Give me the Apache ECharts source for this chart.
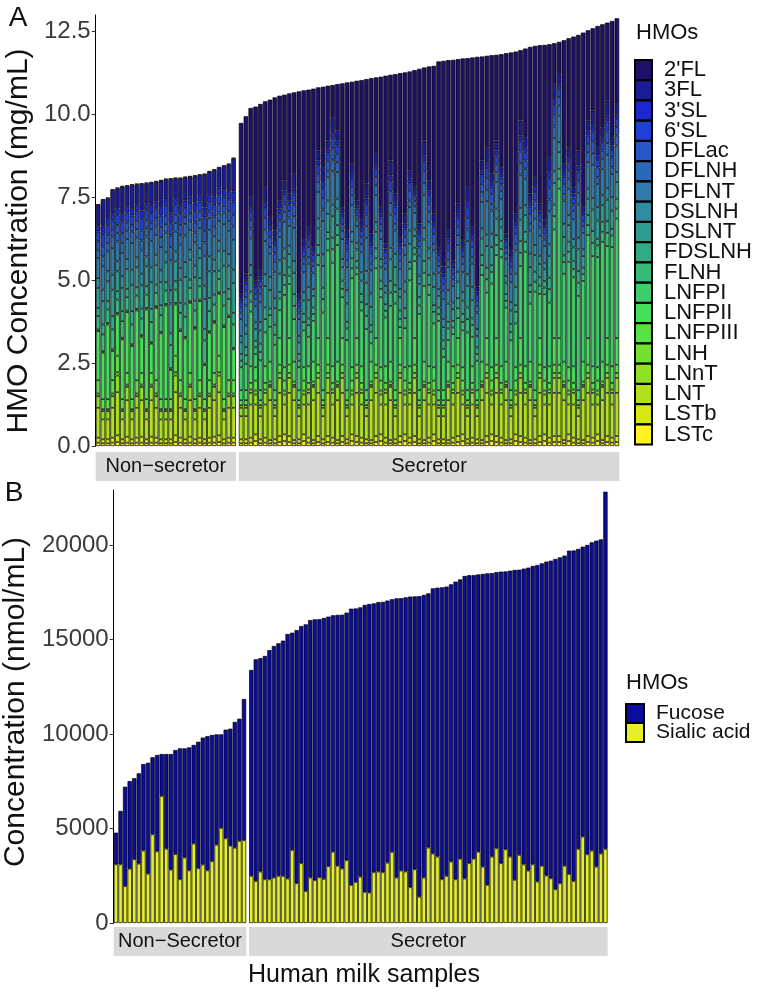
<!DOCTYPE html>
<html><head><meta charset="utf-8">
<script src="https://cdn.jsdelivr.net/npm/echarts/dist/echarts.min.js"></script>
<style>html,body{margin:0;padding:0;background:#fff}#c{width:759px;height:992px}</style>
</head><body><div id="c"></div>
<script>
const FONT = "'Liberation Sans', Arial, Helvetica, sans-serif";
const nonSecCount = 29;
const sampleIds = Array.from({length:108}, (_, i) => 'M' + (i + 1));

const hmoNames = ["2'FL","3FL","3'SL","6'SL","DFLac","DFLNH","DFLNT","DSLNH","DSLNT","FDSLNH","FLNH","LNFPI","LNFPII","LNFPIII","LNH","LNnT","LNT","LSTb","LSTc"];
const hmoColors = ["#1f0f68","#1b1b98","#1c27cf","#1f40d4","#2756c6","#2a68b8","#2d7aab","#2f8b9f","#2f9b93","#31aa87","#37bb7a","#3ecd6a","#46df59","#58e345","#72e130","#92e024","#b2e11b","#d5e912","#fff21c"];

// Panel A (mg/mL): first 29 samples = non-secretors, remaining 79 = secretors
const v2FL = [0.02,0.02,0.02,0.02,0.02,0.02,0.02,0.02,0.02,0.02,0.02,0.02,0.02,0.02,0.02,0.02,0.02,0.02,0.02,0.02,0.02,0.02,0.02,0.02,0.02,0.02,0.02,0.02,0.02,
5.13,4.73,2.68,5.22,5.00,2.58,3.53,4.00,3.15,2.58,
3.02,2.45,6.08,4.51,4.13,4.76,1.90,2.42,1.65,0.97,
1.40,3.72,4.45,2.47,3.60,4.22,3.15,4.68,2.30,3.92,
5.05,2.58,3.60,4.93,4.25,2.98,3.52,4.66,2.20,3.43,
4.45,5.58,6.20,5.12,6.03,4.35,5.47,3.88,5.10,6.92,
3.13,2.75,3.57,2.58,3.40,5.43,5.95,4.88,2.12,2.67,
4.42,3.95,4.77,5.28,3.40,1.23,0.97,3.72,3.28,4.53,
3.48,5.25,2.72,2.48,3.65,3.10,2.35,3.50,2.58];
const v3FL = [.60,.80,.60,.70,.60,.80,.60,.70,.60,.80,.60,.70,.60,.80,.60,1.00,.60,.80,.70,.60,.80,.60,1.00,.70,.80,.60,.70,.80,1.00,
.15,.20,.30,.15,.20,.45,.25,.30,.25,.30,.20,.45,.15,.20,.25,.15,.30,.45,.25,.45,.30,.20,.25,.30,.15,.20,.45,.25,.30,.20,.15,.45,.25,.20,.30,.25,.15,.20,.45,.30,.25,.15,.20,.25,.15,.30,.20,.45,.25,.15,.30,.45,.25,.30,.20,.15,.20,.25,.45,.30,.25,.30,.20,.15,.45,.45,.30,.25,.30,.20,.45,.15,.30,.45,.25,.30,.45,.25,.30];
const v3SL = [.20,.25,.20,.22,.20,.25,.20,.22,.20,.25,.20,.22,.20,.25,.20,.30,.20,.25,.22,.20,.25,.20,.30,.22,.25,.20,.22,.25,.30,
.10,.12,.15,.10,.12,.18,.14,.15,.14,.15,.12,.18,.10,.12,.14,.10,.15,.18,.14,.18,.15,.12,.14,.15,.10,.12,.18,.14,.15,.12,.10,.18,.14,.12,.15,.14,.10,.12,.18,.15,.14,.10,.12,.14,.10,.15,.12,.18,.14,.10,.15,.18,.14,.15,.12,.10,.12,.14,.18,.15,.14,.15,.12,.10,.18,.18,.15,.14,.15,.12,.18,.10,.15,.18,.14,.15,.18,.14,.15];
const v6SL = [.30,.35,.30,.28,.30,.35,.30,.28,.30,.35,.30,.28,.30,.35,.30,.40,.30,.35,.28,.30,.35,.30,.40,.28,.35,.30,.28,.35,.40,
.18,.20,.25,.18,.20,.30,.22,.25,.22,.25,.20,.30,.18,.20,.22,.18,.25,.30,.22,.30,.25,.20,.22,.25,.18,.20,.30,.22,.25,.20,.18,.30,.22,.20,.25,.22,.18,.20,.30,.25,.22,.18,.20,.22,.18,.25,.20,.30,.22,.18,.25,.30,.22,.25,.20,.18,.20,.22,.30,.25,.22,.25,.20,.18,.30,.30,.25,.22,.25,.20,.30,.18,.25,.30,.22,.25,.30,.22,.25];
const vDFLac = [.25,.30,.25,.20,.25,.30,.25,.20,.25,.30,.25,.20,.25,.30,.25,.35,.25,.30,.20,.25,.30,.25,.35,.20,.30,.25,.20,.30,.35,
.15,.20,.25,.15,.20,.35,.30,.25,.30,.25,.20,.35,.15,.20,.30,.15,.25,.35,.30,.35,.25,.20,.30,.25,.15,.20,.35,.30,.25,.20,.15,.35,.30,.20,.25,.30,.15,.20,.35,.25,.30,.15,.20,.30,.15,.25,.20,.35,.30,.15,.25,.35,.30,.25,.20,.15,.20,.30,.35,.25,.30,.25,.20,.15,.35,.35,.25,.30,.25,.20,.35,.15,.25,.35,.30,.25,.35,.30,.25];
const vDFLNH = [.25,.30,.25,.35,.25,.30,.25,.35,.25,.30,.25,.35,.25,.30,.25,.40,.25,.30,.35,.25,.30,.25,.40,.35,.30,.25,.35,.30,.40,
.20,.25,.30,.20,.25,.35,.20,.30,.20,.30,.25,.35,.20,.25,.20,.20,.30,.35,.20,.35,.30,.25,.20,.30,.20,.25,.35,.20,.30,.25,.20,.35,.20,.25,.30,.20,.20,.25,.35,.30,.20,.20,.25,.20,.20,.30,.25,.35,.20,.20,.30,.35,.20,.30,.25,.20,.25,.20,.35,.30,.20,.30,.25,.20,.35,.35,.30,.20,.30,.25,.35,.20,.30,.35,.20,.30,.35,.20,.30];
const vDFLNT = [.60,.70,.60,.80,.60,.70,.60,.80,.60,.70,.60,.80,.60,.70,.60,.90,.60,.70,.80,.60,.70,.60,.90,.80,.70,.60,.80,.70,.90,
.50,.60,.80,.50,.60,1.00,.70,.80,.70,.80,.60,1.00,.50,.60,.70,.50,.80,1.00,.70,1.00,.80,.60,.70,.80,.50,.60,1.00,.70,.80,.60,.50,1.00,.70,.60,.80,.70,.50,.60,1.00,.80,.70,.50,.60,.70,.50,.80,.60,1.00,.70,.50,.80,1.00,.70,.80,.60,.50,.60,.70,1.00,.80,.70,.80,.60,.50,1.00,1.00,.80,.70,.80,.60,1.00,.50,.80,1.00,.70,.80,1.00,.70,.80];
const vDSLNH = [.30,.35,.30,.45,.30,.35,.30,.45,.30,.35,.30,.45,.30,.35,.30,.40,.30,.35,.45,.30,.35,.30,.40,.45,.35,.30,.45,.35,.40,
.20,.25,.30,.20,.25,.35,.40,.30,.40,.30,.25,.35,.20,.25,.40,.20,.30,.35,.40,.35,.30,.25,.40,.30,.20,.25,.35,.40,.30,.25,.20,.35,.40,.25,.30,.40,.20,.25,.35,.30,.40,.20,.25,.40,.20,.30,.25,.35,.40,.20,.30,.35,.40,.30,.25,.20,.25,.40,.35,.30,.40,.30,.25,.20,.35,.35,.30,.40,.30,.25,.35,.20,.30,.35,.40,.30,.35,.40,.30];
const vDSLNT = [.60,.70,.60,.80,.60,.70,.60,.80,.60,.70,.60,.80,.60,.70,.60,.90,.60,.70,.80,.60,.70,.60,.90,.80,.70,.60,.80,.70,.90,
.35,.40,.50,.35,.40,.65,.55,.50,.55,.50,.40,.65,.35,.40,.55,.35,.50,.65,.55,.65,.50,.40,.55,.50,.35,.40,.65,.55,.50,.40,.35,.65,.55,.40,.50,.55,.35,.40,.65,.50,.55,.35,.40,.55,.35,.50,.40,.65,.55,.35,.50,.65,.55,.50,.40,.35,.40,.55,.65,.50,.55,.50,.40,.35,.65,.65,.50,.55,.50,.40,.65,.35,.50,.65,.55,.50,.65,.55,.50];
const vFDSLNH = [.25,.30,.25,.40,.25,.30,.25,.40,.25,.30,.25,.40,.25,.30,.25,.35,.25,.30,.40,.25,.30,.25,.35,.40,.30,.25,.40,.30,.35,
.20,.25,.30,.20,.25,.35,.20,.30,.20,.30,.25,.35,.20,.25,.20,.20,.30,.35,.20,.35,.30,.25,.20,.30,.20,.25,.35,.20,.30,.25,.20,.35,.20,.25,.30,.20,.20,.25,.35,.30,.20,.20,.25,.20,.20,.30,.25,.35,.20,.20,.30,.35,.20,.30,.25,.20,.25,.20,.35,.30,.20,.30,.25,.20,.35,.35,.30,.20,.30,.25,.35,.20,.30,.35,.20,.30,.35,.20,.30];
const vFLNH = [.40,.50,.40,.60,.40,.50,.40,.60,.40,.50,.40,.60,.40,.50,.40,.70,.40,.50,.60,.40,.50,.40,.70,.60,.50,.40,.60,.50,.70,
.20,.25,.30,.20,.25,.40,.35,.30,.35,.30,.25,.40,.20,.25,.35,.20,.30,.40,.35,.40,.30,.25,.35,.30,.20,.25,.40,.35,.30,.25,.20,.40,.35,.25,.30,.35,.20,.25,.40,.30,.35,.20,.25,.35,.20,.30,.25,.40,.35,.20,.30,.40,.35,.30,.25,.20,.25,.35,.40,.30,.35,.30,.25,.20,.40,.40,.30,.35,.30,.25,.40,.20,.30,.40,.35,.30,.40,.35,.30];
const vLNFPI = [.05,.05,.05,.05,.05,.05,.05,.05,.05,.05,.05,.05,.05,.05,.05,.05,.05,.05,.05,.05,.05,.05,.05,.05,.05,.05,.05,.05,.05,
0.69,0.80,1.65,0.40,0.90,1.02,1.05,1.37,0.84,2.18,
1.63,1.28,0.69,1.11,0.89,1.23,2.20,2.34,2.64,3.12,
3.51,1.23,1.51,2.68,1.92,1.68,1.84,0.55,2.10,2.11,
1.47,1.68,2.61,0.33,1.18,2.59,2.32,2.30,2.28,2.15,
1.32,2.09,1.00,0.65,0.97,0.60,1.11,1.74,0.89,0.89,
2.61,1.37,2.52,2.50,3.28,1.63,1.50,1.32,2.17,3.45,
1.75,2.97,1.33,2.20,1.92,3.27,4.50,2.65,3.18,2.68,
2.84,2.43,3.10,3.32,3.32,3.61,2.77,3.59,3.60];
const vLNFPII = [1.48,1.40,2.25,0.88,1.24,1.80,1.83,1.60,2.10,1.09,2.70,0.88,2.18,1.98,2.82,0.88,1.54,1.48,1.83,2.11,2.12,2.38,1.02,1.43,1.51,1.86,2.17,1.90,0.93,
.30,.30,.50,.40,.30,.50,.60,.30,.80,.40,.80,.60,.30,.40,.50,.60,.80,.30,.80,.50,.60,.80,.30,.40,.80,.50,.30,.60,.80,.40,.50,.60,.30,.80,.40,.50,.80,.30,.60,.50,.40,.30,.30,.60,.50,.80,.40,.30,.50,.30,.60,.80,.40,.80,.50,.60,.30,.40,.80,.50,.60,.30,.80,.40,.50,.80,.80,.60,.40,.50,.30,.60,.80,.50,.40,.60,.80,.50,.80];
const vLNFPIII = [.40,.30,.30,.40,.50,.30,.35,.30,.40,.35,.30,.35,.40,.30,.30,.30,.50,.40,.30,.35,.30,.40,.30,.40,.35,.50,.30,.40,.40,
.15,.15,.20,.30,.15,.20,.10,.15,.25,.30,.25,.10,.15,.30,.20,.10,.25,.15,.25,.20,.10,.25,.15,.30,.25,.20,.15,.10,.25,.30,.20,.10,.15,.25,.30,.20,.25,.15,.10,.20,.30,.15,.15,.10,.20,.25,.30,.15,.20,.15,.10,.25,.30,.25,.20,.10,.15,.30,.25,.20,.10,.15,.25,.30,.20,.25,.25,.10,.30,.20,.15,.10,.25,.20,.30,.10,.25,.20,.25];
const vLNH = [.08,.06,.06,.08,.10,.06,.07,.06,.08,.07,.06,.07,.08,.06,.06,.06,.10,.08,.06,.07,.06,.08,.06,.08,.07,.10,.06,.08,.08,
.08,.08,.10,.12,.08,.10,.06,.08,.15,.12,.15,.06,.08,.12,.10,.06,.15,.08,.15,.10,.06,.15,.08,.12,.15,.10,.08,.06,.15,.12,.10,.06,.08,.15,.12,.10,.15,.08,.06,.10,.12,.08,.08,.06,.10,.15,.12,.08,.10,.08,.06,.15,.12,.15,.10,.06,.08,.12,.15,.10,.06,.08,.15,.12,.10,.15,.15,.06,.12,.10,.08,.06,.15,.10,.12,.06,.15,.10,.15];
const vLNnT = [.35,.25,.25,.35,.50,.25,.40,.25,.35,.40,.25,.40,.35,.25,.25,.25,.50,.35,.25,.40,.25,.35,.25,.35,.40,.50,.25,.35,.35,
.25,.25,.35,.30,.25,.35,.40,.25,.45,.30,.45,.40,.25,.30,.35,.40,.45,.25,.45,.35,.40,.45,.25,.30,.45,.35,.25,.40,.45,.30,.35,.40,.25,.45,.30,.35,.45,.25,.40,.35,.30,.25,.25,.40,.35,.45,.30,.25,.35,.25,.40,.45,.30,.45,.35,.40,.25,.30,.45,.35,.40,.25,.45,.30,.35,.45,.45,.40,.30,.35,.25,.40,.45,.35,.30,.40,.45,.35,.45];
const vLNT = [.90,.60,.60,.90,1.30,.60,1.10,.60,.90,1.10,.60,1.10,.90,.60,.60,.60,1.30,.90,.60,1.10,.60,.90,.60,.90,1.10,1.30,.60,.90,.90,
.70,.70,1.00,.90,.70,1.00,1.20,.70,1.30,.90,1.30,1.20,.70,.90,1.00,1.20,1.30,.70,1.30,1.00,1.20,1.30,.70,.90,1.30,1.00,.70,1.20,1.30,.90,1.00,1.20,.70,1.30,.90,1.00,1.30,.70,1.20,1.00,.90,.70,.70,1.20,1.00,1.30,.90,.70,1.00,.70,1.20,1.30,.90,1.30,1.00,1.20,.70,.90,1.30,1.00,1.20,.70,1.30,.90,1.00,1.30,1.30,1.20,.90,1.00,.70,1.20,1.30,1.00,.90,1.20,1.30,1.00,1.30];
const vLSTb = [.15,.12,.12,.15,.20,.12,.18,.12,.15,.18,.12,.18,.15,.12,.12,.12,.20,.15,.12,.18,.12,.15,.12,.15,.18,.20,.12,.15,.15,
.12,.12,.15,.20,.12,.15,.10,.12,.18,.20,.18,.10,.12,.20,.15,.10,.18,.12,.18,.15,.10,.18,.12,.20,.18,.15,.12,.10,.18,.20,.15,.10,.12,.18,.20,.15,.18,.12,.10,.15,.20,.12,.12,.10,.15,.18,.20,.12,.15,.12,.10,.18,.20,.18,.15,.10,.12,.20,.18,.15,.10,.12,.18,.20,.15,.18,.18,.10,.20,.15,.12,.10,.18,.15,.20,.10,.18,.15,.18];
const vLSTc = [.10,.08,.08,.10,.12,.08,.10,.08,.10,.10,.08,.10,.10,.08,.08,.08,.12,.10,.08,.10,.08,.10,.08,.10,.10,.12,.08,.10,.10,
.08,.08,.10,.15,.08,.10,.08,.08,.12,.15,.12,.08,.08,.15,.10,.08,.12,.08,.12,.10,.08,.12,.08,.15,.12,.10,.08,.08,.12,.15,.10,.08,.08,.12,.15,.10,.12,.08,.08,.10,.15,.08,.08,.08,.10,.12,.15,.08,.10,.08,.08,.12,.15,.12,.10,.08,.08,.15,.12,.10,.08,.08,.12,.15,.10,.12,.12,.08,.15,.10,.08,.08,.12,.10,.15,.08,.12,.10,.12];

// Panel B (nmol/mL)
const sialicAcid = [3100,3100,1950,2870,3370,3140,3830,2610,4690,3790,6720,3930,2820,3640,2310,3460,2780,4200,2890,3090,2780,3270,4140,5030,4480,4090,3980,4340,4380,
2490,2220,2720,2310,2310,2400,2490,2490,2350,3860,2100,3160,1690,2400,2260,2420,2330,3000,3770,3030,2880,3320,2010,2170,2450,1640,
1610,2680,2720,2680,3190,3760,2400,2770,2720,1890,2840,1390,2400,3990,3670,3510,2310,2490,3250,2310,3400,2350,3160,3400,3770,2980,
2010,3510,3950,3160,3900,3510,2280,3600,3100,2770,3100,2190,3030,2510,2360,1780,2100,3030,2590,2220,3920,4570,3630,3830,2980,3670,3920];
const fucose = [1680,2830,5260,4640,4290,4780,4580,5870,4080,5100,2220,5010,6120,5510,6930,5780,6510,5220,6700,6720,7110,6680,5840,4950,5750,6190,6660,6470,7470,
10900,11730,11290,11820,12130,12260,12310,12450,12940,11500,
13400,12550,14110,13630,13810,13660,13810,13210,12510,13270,
13430,13100,14620,14470,14250,15190,15270,14230,14260,14310,
13870,13370,14780,14420,14510,15380,14440,15900,14960,13450,
14040,14230,15450,15310,14670,15750,14780,16010,15240,15010,
14670,15490,16490,15000,14610,15430,14700,15130,16400,15090,
15650,16030,15790,16750,16000,16610,16810,17480,17250,16410,
17110,17490,15870,15340,16370,16310,17250,16630,18900];

const groupLabelsA = ['Non\u2212secretor','Secretor'];
const groupLabelsB = ['Non\u2212Secretor','Secretor'];

const hmoTable = [v2FL,v3FL,v3SL,v6SL,vDFLac,vDFLNH,vDFLNT,vDSLNH,vDSLNT,vFDSLNH,vFLNH,vLNFPI,vLNFPII,vLNFPIII,vLNH,vLNnT,vLNT,vLSTb,vLSTc];

const part = (arr, g) => g === 0 ? arr.slice(0, nonSecCount) : arr.slice(nonSecCount);
const border = {borderColor:'#000', borderWidth:0.7};

const series = [];
[0,1].forEach(g => {
  for (let i = hmoNames.length - 1; i >= 0; i--) {
    series.push({type:'bar', name:hmoNames[i], xAxisIndex:g, yAxisIndex:g, stack:'A'+g,
      data: part(hmoTable[i], g), barCategoryGap:'6%',
      itemStyle: Object.assign({color:hmoColors[i]}, border)});
  }
});
[0,1].forEach(g => {
  series.push({type:'bar', name:'Sialic acid', xAxisIndex:2+g, yAxisIndex:2+g, stack:'B'+g,
    data: part(sialicAcid, g), barCategoryGap:'6%', itemStyle: Object.assign({color:'#e6ef2c'}, border)});
  series.push({type:'bar', name:'Fucose', xAxisIndex:2+g, yAxisIndex:2+g, stack:'B'+g,
    data: part(fucose, g), barCategoryGap:'6%', itemStyle: Object.assign({color:'#0b0b9e'}, border)});
});

const grids = [
  {left:95.7, top:15, width:140.3, height:431},
  {left:238.7, top:15, width:380.6, height:431},
  {left:113.7, top:490, width:132.6, height:433},
  {left:249, top:490, width:358.7, height:433}
];
const xAxes = grids.map((g, i) => ({type:'category', gridIndex:i, data: part(sampleIds, i % 2),
  axisLine:{show:false}, axisTick:{show:false}, axisLabel:{show:false}}));
const yBase = (i, max, interval, fmt) => ({type:'value', gridIndex:i, min:0, max:max, interval:interval,
  show: i % 2 === 0, splitLine:{show:false},
  axisLine:{show:true, lineStyle:{color:'#000', width:1}},
  axisTick:{show:true, length:4, lineStyle:{color:'#333'}},
  axisLabel:{show:true, showMaxLabel:false, fontSize:24, color:'#3a3a3a', fontFamily:FONT, margin:5, formatter:fmt}});
const yAxes = [
  yBase(0, 12.98, 2.5, v => v.toFixed(1)),
  yBase(1, 12.98, 2.5, v => v.toFixed(1)),
  yBase(2, 22910, 5000, v => String(v)),
  yBase(3, 22910, 5000, v => String(v))
];

const txt = (x, y, text, size, opts, align) => Object.assign({type:'text', x:x, y:y,
  style:{text:text, font: size + 'px ' + FONT, fill:'#111', textAlign: align || 'center', textVerticalAlign:'middle'}}, opts || {});
const strip = (x, y, w, h, label) => [
  {type:'rect', shape:{x:x, y:y, width:w, height:h}, style:{fill:'#d9d9d9'}},
  txt(x + w/2, y + h/2, label, 20)
];

const graphic = [].concat(
  strip(95.7, 452, 140.3, 29, groupLabelsA[0]),
  strip(238.7, 452, 380.6, 29, groupLabelsA[1]),
  strip(113.7, 927, 132.6, 29, groupLabelsB[0]),
  strip(249, 927, 358.7, 29, groupLabelsB[1]),
  [
    txt(18, 18, 'A', 28),
    txt(14, 493, 'B', 28),
    txt(636, 33, 'HMOs', 22, null, 'left'),
    txt(626, 683, 'HMOs', 22, null, 'left'),
    txt(19, 241, 'HMO Concentration (mg/mL)', 30, {rotation: Math.PI/2}),
    txt(16, 702, 'Concentration (nmol/mL)', 30, {rotation: Math.PI/2}),
    txt(364, 975, 'Human milk samples', 25)
  ]
);

const chart = echarts.init(document.getElementById('c'), null, {renderer:'canvas'});
chart.setOption({
  animation:false,
  backgroundColor:'#fff',
  grid: grids,
  xAxis: xAxes,
  yAxis: yAxes,
  legend: [
    {orient:'vertical', left:629, top:54, itemWidth:17, itemHeight:20, itemGap:-1.75, icon:'rect',
     selectedMode:false, data: hmoNames,
     textStyle:{fontSize:22, lineHeight:20, color:'#111', fontFamily:FONT, padding:[0,0,0,7]}},
    {orient:'vertical', left:620, top:698, itemWidth:18, itemHeight:19, itemGap:-2, icon:'rect',
     selectedMode:false, data:['Fucose','Sialic acid'],
     textStyle:{fontSize:21, lineHeight:19, color:'#111', fontFamily:FONT, padding:[0,0,0,7]}}
  ],
  series: series,
  graphic: graphic
});
</script></body></html>
